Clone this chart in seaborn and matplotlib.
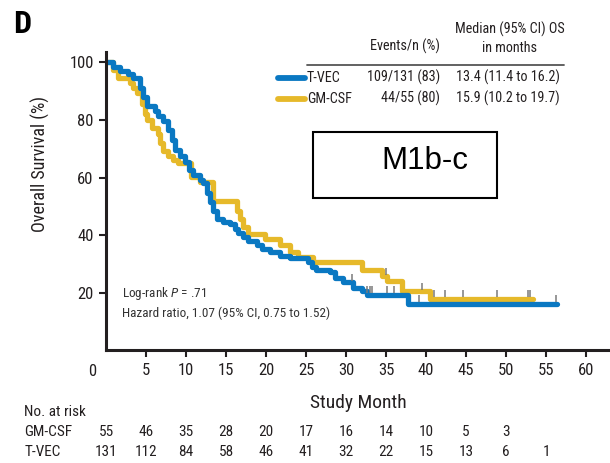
import numpy as np
import pandas as pd
import matplotlib
matplotlib.use("Agg")
import matplotlib.pyplot as plt
import matplotlib.transforms as mtransforms
import seaborn as sns
from matplotlib.patches import Rectangle
from matplotlib.lines import Line2D

# Kaplan-Meier steps (months, % surviving)
tvec_time = [0, 0.9, 1.75, 2.75, 3.4, 4.25, 4.6, 5.1, 6.1, 6.5, 7.1, 7.75, 8.2, 8.6,
             9.25, 9.9, 10.3, 10.9, 11.75, 12.1, 12.6, 13.0, 13.4, 13.9, 14.6, 15.5,
             16.1, 16.5, 17.1, 17.75, 18.9, 19.5, 20.5, 21.75, 23.0, 25.25, 25.75,
             26.2, 28.0, 28.6, 29.6, 30.9, 32.0, 32.6, 37.8, 56.4]
tvec_surv = [100, 98.5, 97, 96, 94.7, 91, 88, 85, 83, 81.5, 79.5, 76.5, 73, 69.5,
             67.5, 65.5, 62.5, 60.7, 59, 58, 54.5, 51.6, 48.4, 45.6, 44.5, 43.9,
             42, 40.7, 39.3, 37.9, 36.5, 35, 34, 32.7, 31.9, 30.5, 29,
             28, 27, 25.2, 23.5, 21.7, 20.4, 19.3, 16.1, 16.1]

gm_time = [0, 0.9, 1.5, 3.0, 3.4, 3.9, 4.5, 4.9, 5.1, 5.7, 6.5, 6.75, 7.1, 7.75,
           8.4, 9.0, 10.6, 11.75, 13.3, 16.4, 16.75, 17.1, 17.75, 19.9, 21.75,
           23.0, 24.0, 25.9, 32.0, 34.5, 35.1, 37.0, 40.5, 53.4]
gm_surv = [100, 97.5, 94.7, 93, 91.2, 89.5, 85.4, 82, 80, 77.2, 75, 72, 69.3, 67.5,
           66, 65, 60.3, 58.6, 52, 48.4, 45.6, 42.8, 40.4, 38.6, 36.5,
           34, 32.3, 30.5, 28, 25.6, 24, 20.4, 17.9, 17.9]

tvec_censor = [30.7, 32.6, 33.0, 33.3, 35.1, 36.0, 39.1, 56.2]
gm_censor = [35.0, 39.5, 41.0, 42.4, 44.6, 48.9, 52.8, 53.0]

risk_months = [0, 5, 10, 15, 20, 25, 30, 35, 40, 45, 50, 55]
risk_gm = [55, 46, 35, 28, 20, 17, 16, 14, 10, 5, 3]
risk_tvec = [131, 112, 84, 58, 46, 41, 32, 22, 15, 13, 6, 1]

arms = ["T-VEC", "GM-CSF"]
events = ["109/131 (83)", "44/55 (80)"]
medians = ["13.4 (11.4 to 16.2)", "15.9 (10.2 to 19.7)"]

BLUE = "#0A78C2"
GOLD = "#E6B92A"
INK = "#231F20"
FONT = "Roboto Condensed"

sns.set_theme(style="ticks")
plt.rcParams["font.family"] = [FONT, "DejaVu Sans"]
plt.rcParams["mathtext.fontset"] = "custom"
plt.rcParams["mathtext.it"] = FONT + ":italic"
plt.rcParams["mathtext.rm"] = FONT

df = pd.concat([
    pd.DataFrame({"month": gm_time, "surv": gm_surv, "arm": "GM-CSF"}),
    pd.DataFrame({"month": tvec_time, "surv": tvec_surv, "arm": "T-VEC"}),
])

fig = plt.figure(figsize=(6.1, 4.63), dpi=100)
ax = fig.add_axes([0.174, 0.244, 0.826, 0.644])

sns.lineplot(
    data=df, x="month", y="surv", hue="arm",
    hue_order=["GM-CSF", "T-VEC"],
    palette={"T-VEC": BLUE, "GM-CSF": GOLD},
    estimator=None, drawstyle="steps-post",
    linewidth=3.8, legend=False, ax=ax
)


def surv_at(times, surv, t):
    i = np.searchsorted(times, t, side="right") - 1
    return surv[i]


for times, surv, cens in [(gm_time, gm_surv, gm_censor), (tvec_time, tvec_surv, tvec_censor)]:
    ys = np.array([surv_at(times, surv, c) for c in cens])
    ax.vlines(cens, ys + 0.6, ys + 3.0, color="#7a7a7a", lw=1.1, zorder=3)

ax.set_xlim(0, 63)
ax.set_ylim(0, 103.7)
ax.set_xticks(range(5, 61, 5))
ax.set_yticks(range(20, 101, 20))
ax.tick_params(axis="both", labelsize=12, length=5, width=1.5, color=INK, labelcolor=INK, pad=4)
for s in ["left", "bottom"]:
    ax.spines[s].set_linewidth(2.2)
    ax.spines[s].set_color(INK)
sns.despine(ax=ax)
ax.text(-1.8, -4.8, "0", ha="center", va="top", fontsize=12, color=INK)

ax.set_xlabel("Study Month", fontsize=14, color=INK, labelpad=12)
ax.set_ylabel("Overall Survival (%)", fontsize=13, color=INK)
ax.yaxis.set_label_coords(-0.111, 0.624)

# log-rank annotation
ax.text(2, 19.5, "Log-rank $P$ = .71", fontsize=9.5, color="#333333", va="center")
ax.text(2, 12.9, "Hazard ratio, 1.07 (95% CI, 0.75 to 1.52)", fontsize=9.5,
        color="#333333", va="center")

# legend table
TS = 10.2
fig.text(0.836, 0.937, "Median (95% CI) OS", ha="center", va="center", fontsize=TS, color=INK)
fig.text(0.836, 0.896, "in months", ha="center", va="center", fontsize=TS, color=INK)
fig.text(0.664, 0.899, "Events/n (%)", ha="center", va="center", fontsize=TS, color=INK)
fig.add_artist(Line2D([0.503, 0.924], [0.859, 0.859], color="#555555", lw=1.3))
row_y = [0.832, 0.787]
for name, ev, med, yy, col in zip(arms, events, medians, row_y, [BLUE, GOLD]):
    fig.add_artist(Line2D([0.456, 0.500], [yy, yy], color=col, lw=4.2))
    fig.text(0.503, yy, name, ha="left", va="center", fontsize=TS, color=INK)
    fig.text(0.721, yy, ev, ha="right", va="center", fontsize=TS, color=INK)
    fig.text(0.833, yy, med, ha="center", va="center", fontsize=TS, color=INK)

# subgroup box
fig.add_artist(Rectangle((0.513, 0.572), 0.302, 0.143, fill=False,
                         edgecolor="black", lw=1.5, transform=fig.transFigure))
fig.text(0.697, 0.652, "M1b-c", ha="center", va="center", fontsize=22.5,
         family="Liberation Sans", color="black")

fig.text(0.021, 0.949, "D", fontsize=23, fontweight="bold", color="black", va="center")

# numbers at risk
RS = 11
fig.text(0.040, 0.110, "No. at risk", fontsize=RS, color=INK, va="center")
fig.text(0.040, 0.067, "GM-CSF", fontsize=RS, color=INK, va="center")
fig.text(0.040, 0.024, "T-VEC", fontsize=RS, color=INK, va="center")
tr = mtransforms.blended_transform_factory(ax.transData, fig.transFigure)
for m, n in zip(risk_months, risk_gm):
    ax.text(m, 0.067, str(n), transform=tr, ha="center", va="center", fontsize=RS, color=INK)
for m, n in zip(risk_months, risk_tvec):
    ax.text(m, 0.024, str(n), transform=tr, ha="center", va="center", fontsize=RS, color=INK)

fig.savefig("out.png", dpi=100)
